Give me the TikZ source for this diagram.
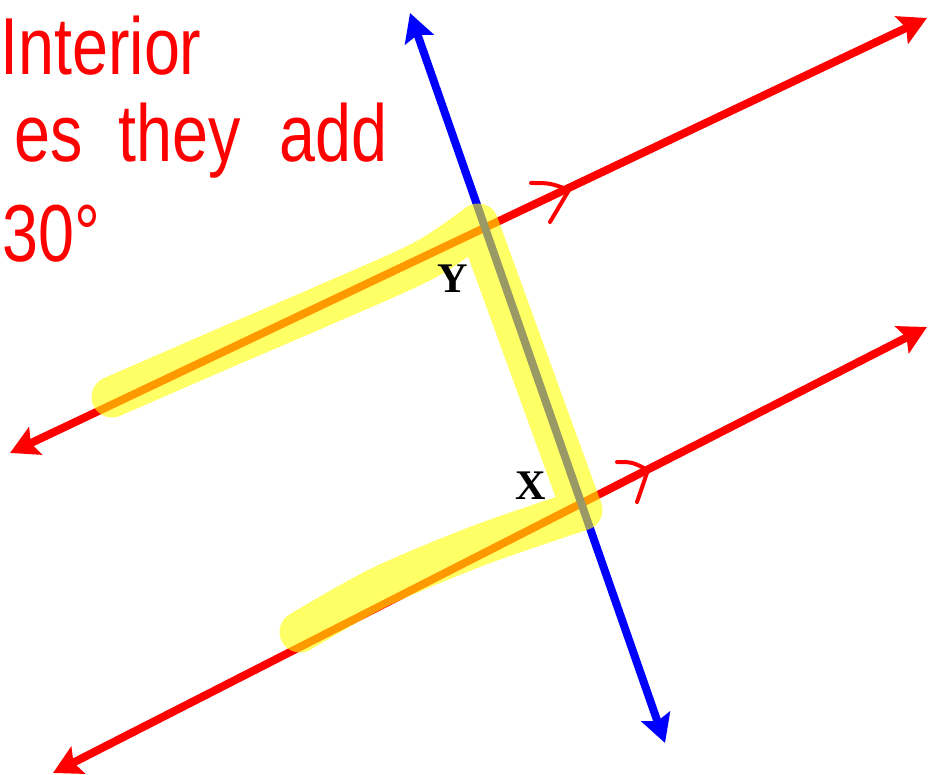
\documentclass[tikz,border=0pt]{standalone}
\usepackage{fontspec}
\usetikzlibrary{arrows.meta}
\newfontfamily\handfont{Liberation Sans}
\newfontfamily\labelfont{Liberation Serif}
\definecolor{inkred}{HTML}{FF0000}
\definecolor{inkblue}{HTML}{0000FF}
\definecolor{marker}{HTML}{FFFF00}

\begin{document}
\begin{tikzpicture}[
    x=0.2mm, y=-0.2mm,
    redline/.style={draw=inkred, line width=1.6mm, arrows={Stealth[length=5.6mm,width=6mm,inset=1mm]-Stealth[length=5.6mm,width=6mm,inset=1mm]}},
    blueline/.style={draw=inkblue, line width=1.6mm, arrows={Stealth[length=5.6mm,width=6mm,inset=1mm]-Stealth[length=5.6mm,width=6mm,inset=1mm]}},
    hilite/.style={draw=marker, line width=8.2mm, draw opacity=0.6, line cap=round, line join=round},
    chevron/.style={draw=inkred, line width=0.8mm, line cap=round, line join=round},
    scrawl/.style={text=inkred, font=\handfont\fontsize{46}{54}\selectfont, xscale=0.8, inner sep=0pt, anchor=base west},
    lbl/.style={font=\labelfont\bfseries\fontsize{24}{28}\selectfont, inner sep=0pt}
]
    \useasboundingbox (0,0) rectangle (928,775);

    % handwritten note
    \node[scrawl] (noteA) at (0,75) {Interior};
    \node[scrawl] (noteB) at (14,162) {es\hspace{0.55em}they\hspace{0.6em}add};
    \node[scrawl] (noteC) at (2,262) {30°};

    % end points of the lines
    \coordinate (upL) at (10,453);
    \coordinate (upR) at (927,18);
    \coordinate (loL) at (53,773);
    \coordinate (loR) at (927,327);
    \coordinate (trT) at (410,13);
    \coordinate (trB) at (665,743);

    % parallel lines and transversal
    \draw[redline] (upL) -- (upR);
    \draw[redline] (loL) -- (loR);
    \draw[blueline] (trT) -- (trB);

    % parallel marks
    \draw[chevron] (531,183) .. controls (550,183) .. (569,190) -- (550,222);
    \draw[chevron] (617,462) .. controls (632,462) .. (648,470) -- (637,502);

    % highlighter over the co-interior pair
    \draw[hilite] plot[smooth, tension=0.5] coordinates {(112,397) (220,350) (320,307) (423,261) (478,224)}
        -- plot[smooth, tension=0.5] coordinates {(582,510) (480,545) (380,587) (300,632)};

    % angle labels
    \node[lbl] (angY) at (453,279) {Y};
    \node[lbl] (angX) at (531,486) {X};
\end{tikzpicture}
\end{document}
